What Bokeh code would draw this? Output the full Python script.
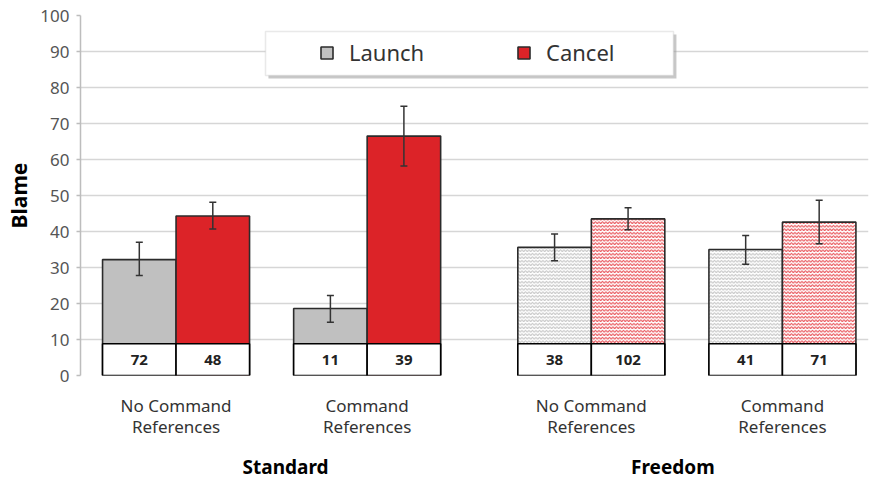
from bokeh.plotting import figure
from bokeh.models import (ColumnDataSource, Range1d, FixedTicker, LinearAxis,
                          Whisker, TeeHead, Legend, LegendItem, BoxAnnotation)
from bokeh.core.properties import value
from bokeh.embed import file_html
from bokeh.resources import INLINE

# ---- data ---------------------------------------------------------------
groups = ["Standard", "Freedom"]
conditions = ["No Command\nReferences", "Command\nReferences"]
series = ["Launch", "Cancel"]

# mean blame per (group, condition), order: Std/NoCmd, Std/Cmd, Free/NoCmd, Free/Cmd
launch_mean = [32.2, 18.6, 35.6, 35.0]
launch_lo = [27.8, 14.8, 31.9, 30.9]
launch_hi = [37.0, 22.2, 39.3, 38.9]
launch_n = [72, 11, 38, 41]

cancel_mean = [44.3, 66.5, 43.5, 42.6]
cancel_lo = [40.7, 58.2, 40.5, 36.6]
cancel_hi = [48.1, 74.8, 46.6, 48.7]
cancel_n = [48, 39, 102, 71]

# ---- layout (x in bar-width units) -------------------------------------
OFFSET = 0.30
SUB_GAP = 0.60
GROUP_GAP = 1.05
COUNT_TOP = 8.8
FRAME_W, FRAME_H = 788, 360
X_MAX = FRAME_W / 73.5

FONT = "Noto Sans"
LAUNCH_FILL = "#c0c0c0"
CANCEL_FILL = "#dc2328"
EDGE = "#2b2b2b"

cell_left = []
for g in range(len(groups)):
    for c in range(len(conditions)):
        cell_left.append(OFFSET + g * (2 * len(series) + SUB_GAP + GROUP_GAP) + c * (len(series) + SUB_GAP))
launch_x = [l + 0.5 for l in cell_left]
cancel_x = [l + 1.5 for l in cell_left]
cond_ticks = [l + 1.0 for l in cell_left]
group_centers = [(cell_left[2 * g] + cell_left[2 * g + 1] + 2) / 2 for g in range(len(groups))]
GROUP_NUDGE = 0.19
group_ticks = [group_centers[0] + GROUP_NUDGE, group_centers[1] - GROUP_NUDGE]

is_freedom = [False, False, True, True]


def bar_source(xs, mean, lo, hi, n, fill, hatch):
    return ColumnDataSource(dict(
        x=xs, top=mean, lo=lo, hi=hi, n=[str(v) for v in n],
        fill=[("white" if f else fill) for f in is_freedom],
        pattern=[("horizontal_wave" if f else " ") for f in is_freedom],
        hatch=[hatch] * len(xs),
    ))


src_launch = bar_source(launch_x, launch_mean, launch_lo, launch_hi, launch_n, LAUNCH_FILL, "#c2c2c2")
src_cancel = bar_source(cancel_x, cancel_mean, cancel_lo, cancel_hi, cancel_n, CANCEL_FILL, "#e6474d")

p = figure(frame_width=FRAME_W, frame_height=FRAME_H, output_backend="svg", toolbar_location=None,
           x_range=Range1d(0, X_MAX), y_range=Range1d(0, 100),
           min_border_left=80, min_border_right=2, min_border_top=15, min_border_bottom=104)
p.outline_line_color = None
p.background_fill_color = "white"

# ---- axes ----------------------------------------------------------------
p.yaxis.ticker = FixedTicker(ticks=list(range(0, 101, 10)))
p.yaxis.axis_label = "Blame"
p.yaxis.axis_label_text_font = FONT
p.yaxis.axis_label_text_font_style = "bold"
p.yaxis.axis_label_text_font_size = "21px"
p.yaxis.axis_label_text_color = "black"
p.yaxis.axis_label_standoff = 4
p.yaxis.major_label_text_font = FONT
p.yaxis.major_label_text_font_size = "17px"
p.yaxis.major_label_text_color = "#555555"
p.yaxis.major_label_standoff = 7
p.yaxis.axis_line_color = "#bdbdbd"
p.yaxis.axis_line_width = 1.5
p.yaxis.major_tick_line_color = "#bdbdbd"
p.yaxis.major_tick_line_width = 1.5
p.yaxis.major_tick_out = 4
p.yaxis.major_tick_in = 0
p.yaxis.minor_tick_line_color = None

p.xaxis.ticker = FixedTicker(ticks=cond_ticks)
p.xaxis.major_label_overrides = {t: conditions[i % 2] for i, t in enumerate(cond_ticks)}
p.xaxis.major_label_text_font = FONT
p.xaxis.major_label_text_font_size = "17px"
p.xaxis.major_label_text_color = "#333333"
p.xaxis.major_label_text_line_height = 0.95
p.xaxis.major_label_standoff = 12
p.xaxis.axis_line_color = None
p.xaxis.major_tick_line_color = None
p.xaxis.minor_tick_line_color = None

gaxis = LinearAxis(ticker=FixedTicker(ticks=group_ticks),
                   major_label_overrides={t: groups[i] for i, t in enumerate(group_ticks)},
                   major_label_text_font=FONT, major_label_text_font_style="bold",
                   major_label_text_font_size="19px", major_label_text_color="black",
                   major_label_standoff=6, axis_line_color=None,
                   major_tick_line_color=None, minor_tick_line_color=None)
p.add_layout(gaxis, "below")

p.xgrid.grid_line_color = None
p.ygrid.ticker = FixedTicker(ticks=list(range(0, 101, 10)))
p.ygrid.grid_line_color = "#d6d6d6"
p.ygrid.grid_line_width = 1.5

# ---- bars ----------------------------------------------------------------
bar_kw = dict(width=1.0, bottom=0, top="top", fill_color="fill", hatch_pattern="pattern",
              hatch_color="hatch", hatch_scale=3.5, hatch_weight=1.1,
              line_color=EDGE, line_width=1.6)
r_launch = p.vbar(x="x", source=src_launch, **bar_kw)
r_cancel = p.vbar(x="x", source=src_cancel, **bar_kw)

# sample-size boxes along the baseline
for src in (src_launch, src_cancel):
    p.vbar(x="x", width=1.0, bottom=0, top=COUNT_TOP, source=src,
           fill_color="white", line_color="black", line_width=1.6)
    p.text(x="x", y=COUNT_TOP / 2, text="n", source=src,
           text_font=value(FONT), text_font_style="bold", text_font_size="15px",
           text_color="#222222", text_align="center", text_baseline="middle")

# error bars, drawn over the bars
for src in (src_launch, src_cancel):
    w = Whisker(source=src, base="x", lower="lo", upper="hi", level="overlay",
                line_color="#333333", line_width=1.5,
                lower_head=TeeHead(size=7, line_color="#333333", line_width=1.5),
                upper_head=TeeHead(size=7, line_color="#333333", line_width=1.5))
    p.add_layout(w)

# ---- legend --------------------------------------------------------------
LEG_L, LEG_R = (265 - 80) / 73.5, (673 - 80) / 73.5
LEG_T, LEG_B = (375 - 31) / 3.6, (375 - 75) / 3.6
p.add_layout(BoxAnnotation(left=LEG_L + 0.04, right=LEG_R + 0.04, top=LEG_T - 0.8, bottom=LEG_B - 0.8,
                           fill_color="#9a9a9a", fill_alpha=0.55, line_color=None, level="overlay"))
p.add_layout(BoxAnnotation(left=LEG_L, right=LEG_R, top=LEG_T, bottom=LEG_B,
                           fill_color="white", fill_alpha=1.0, line_color="#b5b5b5",
                           line_width=1.5, level="overlay"))

legend = Legend(items=[LegendItem(label="Launch", renderers=[r_launch], index=0),
                       LegendItem(label="Cancel", renderers=[r_cancel], index=0)],
                orientation="horizontal", location=(239, 308),
                glyph_width=15, glyph_height=15, label_standoff=15,
                label_width=150, spacing=17, padding=0, margin=0,
                label_text_font=FONT, label_text_font_size="22px",
                label_text_color="#333333",
                border_line_color=None, background_fill_alpha=0)
p.add_layout(legend)

open("out.html", "w").write(file_html(p, INLINE))
